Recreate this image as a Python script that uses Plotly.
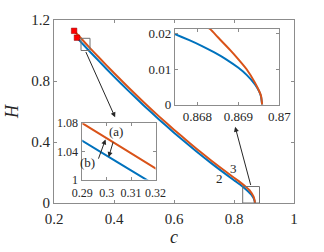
import plotly.graph_objects as go

# ---- data ----
orange_c = [0.267, 0.290, 0.320, 0.350, 0.400, 0.450, 0.500, 0.550, 0.600, 0.650, 0.700,
            0.750, 0.800, 0.820, 0.840, 0.850, 0.855, 0.860, 0.863, 0.8655, 0.8670,
            0.8683, 0.8685, 0.8688, 0.8690, 0.8692, 0.8694, 0.8695, 0.86955, 0.86958]
orange_H = [1.129, 1.080, 1.016, 0.954, 0.852, 0.754, 0.659, 0.568, 0.481, 0.397, 0.316,
            0.239, 0.166, 0.137, 0.105, 0.087, 0.075, 0.060, 0.050, 0.040, 0.031,
            0.0214, 0.0190, 0.0154, 0.0128, 0.0100, 0.0063, 0.0040, 0.0026, 0.0000]

blue_c = [0.2765, 0.290, 0.320, 0.350, 0.400, 0.450, 0.500, 0.550, 0.600, 0.650, 0.700,
          0.750, 0.800, 0.820, 0.840, 0.850, 0.855, 0.860, 0.863, 0.8655, 0.86745,
          0.8678, 0.8681, 0.8684, 0.8687, 0.8690, 0.8692, 0.8694, 0.8695, 0.86955, 0.86958]
blue_H = [1.084, 1.055, 0.992, 0.930, 0.829, 0.732, 0.638, 0.548, 0.461, 0.378, 0.298,
          0.222, 0.149, 0.121, 0.088, 0.070, 0.060, 0.049, 0.039, 0.030, 0.0199,
          0.0182, 0.0166, 0.0148, 0.0128, 0.0104, 0.0084, 0.0058, 0.0039, 0.0024, 0.0000]

start_c = [0.267, 0.2765]
start_H = [1.129, 1.084]

main_xticks = [0.2, 0.4, 0.6, 0.8, 1.0]
main_xlabels = ["0.2", "0.4", "0.6", "0.8", "1"]
main_yticks = [0, 0.4, 0.8, 1.2]
main_ylabels = ["0", "0.4", "0.8", "1.2"]

in1_xticks = [0.868, 0.869, 0.870]
in1_xlabels = ["0.868", "0.869", "0.87"]
in1_yticks = [0, 0.01, 0.02]
in1_ylabels = ["0", "0.01", "0.02"]

in2_xticks = [0.29, 0.30, 0.31, 0.32]
in2_xlabels = ["0.29", "0.3", "0.31", "0.32"]
in2_yticks = [1.0, 1.04, 1.08]
in2_ylabels = ["1", "1.04", "1.08"]

BLUE = "#0072BD"
ORANGE = "#D95319"
FONT = "Liberation Serif"
FRAME = "#8c8c8c"

fig = go.Figure()
for xa, ya in [("x", "y"), ("x2", "y2"), ("x3", "y3")]:
    fig.add_trace(go.Scatter(x=blue_c, y=blue_H, mode="lines", xaxis=xa, yaxis=ya,
                             line=dict(color=BLUE, width=2, shape="spline", smoothing=0.5),
                             showlegend=False, hoverinfo="skip"))
    fig.add_trace(go.Scatter(x=orange_c, y=orange_H, mode="lines", xaxis=xa, yaxis=ya,
                             line=dict(color=ORANGE, width=2, shape="spline", smoothing=0.5),
                             showlegend=False, hoverinfo="skip"))

fig.add_trace(go.Scatter(x=start_c, y=start_H, mode="markers", xaxis="x", yaxis="y",
                         marker=dict(symbol="square", size=5.5, color="#ff0000",
                                     line=dict(color="#8b0000", width=0.5)),
                         showlegend=False, hoverinfo="skip"))


def axstyle(ticks, labels, rng, size, domain, anchor):
    return dict(range=rng, tickvals=ticks, ticktext=labels, domain=domain, anchor=anchor,
                showgrid=False, zeroline=False, showline=True, linecolor=FRAME, linewidth=1,
                mirror="allticks", ticks="inside", ticklen=3, tickcolor=FRAME, tickangle=0,
                tickfont=dict(family=FONT, size=size, color="#262626"))


main_x = axstyle(main_xticks, main_xlabels, [0.2, 1.0], 15, [0, 1], "y")
main_x["title"] = dict(text="<i>c</i>", font=dict(family=FONT, size=18, color="#262626"), standoff=0)
main_x["ticklabelstandoff"] = 2
main_y = axstyle(main_yticks, main_ylabels, [0, 1.2], 15, [0, 1], "x")
main_y["title"] = dict(text="<i>H</i>", font=dict(family=FONT, size=18, color="#262626"), standoff=7)

in2_x = axstyle(in2_xticks, in2_xlabels, [0.29, 0.32], 12, [0.118, 0.423], "y3")
in2_x["ticklabelstandoff"] = 2
in2_y = axstyle(in2_yticks, in2_ylabels, [1.0, 1.08], 12, [0.128, 0.436], "x3")
in2_y["ticklabelstandoff"] = 1

fig.update_layout(
    width=324, height=252,
    margin=dict(l=48, r=30, t=19, b=45),
    paper_bgcolor="white", plot_bgcolor="white",
    xaxis=main_x, yaxis=main_y,
    xaxis2=axstyle(in1_xticks, in1_xlabels, [0.86745, 0.870], 13, [0.504, 0.939], "y2"),
    yaxis2=axstyle(in1_yticks, in1_ylabels, [0, 0.0214], 13, [0.537, 0.952], "x2"),
    xaxis3=in2_x,
    yaxis3=in2_y,
)

# zoom boxes on the main axes
fig.add_shape(type="rect", xref="x", yref="y", x0=0.29, x1=0.32, y0=1.0, y1=1.08,
              line=dict(color="#707070", width=1))
fig.add_shape(type="rect", xref="x", yref="y", x0=0.829, x1=0.885, y0=0.0, y1=0.108,
              line=dict(color="#707070", width=1))

arrow = dict(showarrow=True, arrowhead=2, arrowsize=1, arrowwidth=1, arrowcolor="#262626", text="")
fig.add_annotation(x=0.4038, y=0.562, ax=0.304, ay=1.0, xref="x", yref="y", axref="x", ayref="y", **arrow)
fig.add_annotation(x=0.8037, y=0.50, ax=0.857, ay=0.108, xref="x", yref="y", axref="x", ayref="y", **arrow)
fig.add_annotation(x=0.2995, y=1.057, ax=0.2964, ay=1.0276, xref="x3", yref="y3", axref="x3", ayref="y3", **arrow)
fig.add_annotation(x=0.3008, y=1.032, ax=0.3028, ay=1.0552, xref="x3", yref="y3", axref="x3", ayref="y3", **arrow)

txt = dict(showarrow=False, font=dict(family=FONT, size=13, color="#262626"))
fig.add_annotation(x=0.3036, y=1.0676, xref="x3", yref="y3", text="(a)", **txt)
fig.add_annotation(x=0.2920, y=1.0245, xref="x3", yref="y3", text="(b)", **txt)
fig.add_annotation(x=0.753, y=0.16, xref="x", yref="y", text="2", **txt)
fig.add_annotation(x=0.798, y=0.223, xref="x", yref="y", text="3", **txt)

fig.write_html("out.html", config={"displayModeBar": False},
               post_script="document.body.style.margin='0px';")
